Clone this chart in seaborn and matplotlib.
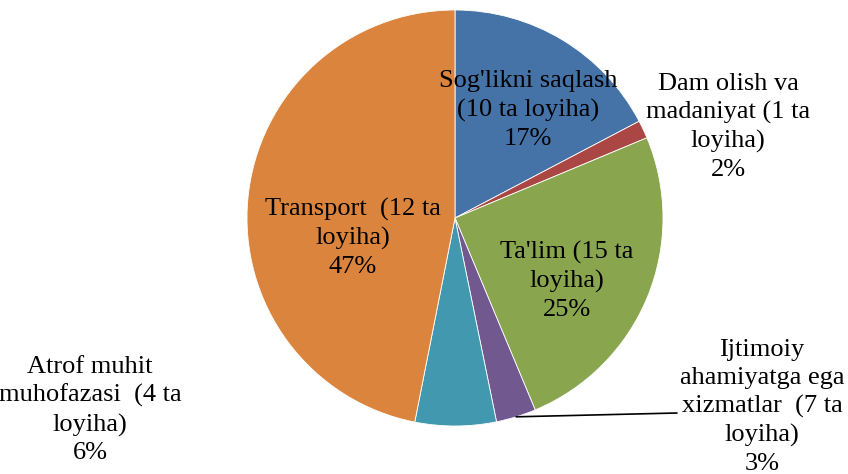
import numpy as np
import seaborn as sns
import matplotlib.pyplot as plt

sns.set_style("white")
plt.rcParams['font.family'] = ['Liberation Serif', 'DejaVu Serif']

# slices, clockwise from the top
categories = ["Sog'likni saqlash", "Dam olish va madaniyat", "Ta'lim",
              "Ijtimoiy ahamiyatga ega xizmatlar", "Atrof muhit muhofazasi", "Transport"]
shares = [17.3, 1.4, 25.0, 3.1, 6.3, 46.9]
labels = ["Sog'likni saqlash\n(10 ta loyiha)\n17%",
          "Dam olish va\nmadaniyat (1 ta\nloyiha)\n2%",
          "Ta'lim (15 ta\nloyiha)\n25%",
          "Ijtimoiy\nahamiyatga ega\nxizmatlar  (7 ta\nloyiha)\n3%",
          "Atrof muhit\nmuhofazasi  (4 ta\nloyiha)\n6%",
          "Transport  (12 ta\nloyiha)\n47%"]
colors = sns.color_palette(["#4572A7", "#AA4643", "#89A54E", "#71588F", "#4198AF", "#DB843D"])

# pixel layout: pie centre (455, 218), radius 208 px
W, H, cx, cy, R = 848, 474, 455, 218, 208
def px(x, y):
    return (x - cx) / R, (cy - y) / R

label_px = [(528, 110), (728, 127), (567, 281), (762, 407), (90, 410), (353, 238)]

fig = plt.figure(figsize=(W / 100, H / 100), dpi=100)
ax = fig.add_axes([0, 0, 1, 1])
wedges, _ = ax.pie(shares, colors=colors, startangle=90, counterclock=False,
                   wedgeprops=dict(edgecolor="white", linewidth=0.6))
ax.set_xlim(-cx / R, (W - cx) / R)
ax.set_ylim(-(H - cy) / R, cy / R)
ax.set_aspect("equal")
ax.axis("off")

for lab, (x, y) in zip(labels, label_px):
    tx, ty = px(x, y)
    ax.text(tx, ty, lab, ha="center", va="center", fontsize=19,
            linespacing=1.35, color="black")

# leader line for the small "Ijtimoiy" slice
w = wedges[3]
mid = np.deg2rad((w.theta1 + w.theta2) / 2)
ex, ey = px(677, 413)
ax.plot([np.cos(mid), ex], [np.sin(mid), ey], color="black", linewidth=1.2)

fig.savefig("out.png", dpi=100)
